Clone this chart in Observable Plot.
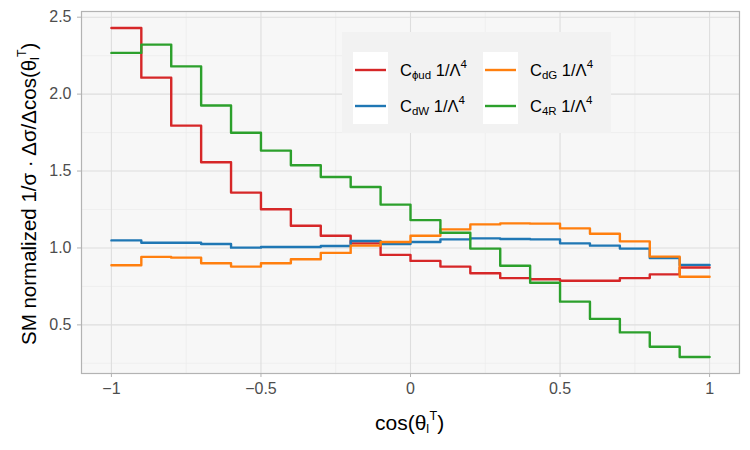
<!DOCTYPE html>
<html><head><meta charset="utf-8">
<script src="https://cdn.jsdelivr.net/npm/d3@7"></script>
<script src="https://cdn.jsdelivr.net/npm/@observablehq/plot@0.6"></script>
<style>body{margin:0;background:#fff;} #chart{width:750px;height:450px;}</style>
</head><body><div id="chart"></div>
<script>
const binLeft = [-1.0,-0.9,-0.8,-0.7,-0.6,-0.5,-0.4,-0.3,-0.2,-0.1,0.0,0.1,0.2,0.3,0.4,0.5,0.6,0.7,0.8,0.9];
const binRight = 1.0;
const cPhiUd = [2.43,2.107,1.795,1.557,1.36,1.252,1.144,1.079,1.03,0.955,0.916,0.879,0.836,0.804,0.797,0.787,0.787,0.804,0.828,0.873];
const cDW    = [1.049,1.034,1.034,1.026,1.002,1.006,1.006,1.013,1.045,1.026,1.039,1.056,1.062,1.058,1.056,1.03,1.015,0.996,0.935,0.89];
const cDG    = [0.888,0.942,0.937,0.901,0.879,0.901,0.927,0.968,1.015,1.039,1.079,1.121,1.153,1.16,1.158,1.127,1.092,1.043,0.944,0.813];
const c4R    = [2.268,2.322,2.18,1.926,1.749,1.633,1.538,1.461,1.396,1.282,1.181,1.099,0.996,0.884,0.774,0.651,0.539,0.451,0.358,0.291];
const seriesKeys = ["phiud","dW","dG","4R"];
const seriesSubs = ["ϕud","dW","dG","4R"];
const seriesColors = ["#d62728","#1f77b4","#ff7f0e","#2ca02c"];
const xTicks = [-1,-0.5,0,0.5,1];
const xTickLabels = ["−1","−0.5","0","0.5","1"];
const xMinor = [-0.75,-0.25,0.25,0.75];
const yTicks = [0.5,1.0,1.5,2.0,2.5];
const yTickLabels = ["0.5","1.0","1.5","2.0","2.5"];
const yMinor = [0.25,0.75,1.25,1.75,2.25];

const seriesValues = [cPhiUd, cDW, cDG, c4R];
const rows = [];
seriesKeys.forEach((k, si) => {
  const vals = seriesValues[si];
  vals.forEach((v, i) => rows.push({key: k, x: binLeft[i], y: v}));
  rows.push({key: k, x: binRight, y: vals[vals.length - 1]});
});

const font = "'Liberation Sans', Arial, sans-serif";
const plot = Plot.plot({
  width: 750, height: 450,
  marginLeft: 81, marginRight: 11, marginTop: 11, marginBottom: 77,
  x: {domain: [-1.1, 1.1]},
  y: {domain: [0.184, 2.537]},
  color: {domain: seriesKeys, range: seriesColors},
  style: {fontFamily: font, fontSize: "16px", background: "#fff", overflow: "visible"},
  marks: [
    Plot.frame({fill: "#F7F7F7", stroke: null}),
    Plot.ruleX(xMinor, {stroke: "#EBEBEB", strokeWidth: 0.7}),
    Plot.ruleY(yMinor, {stroke: "#EBEBEB", strokeWidth: 0.7}),
    Plot.ruleX(xTicks, {stroke: "#DEDEDE", strokeWidth: 1.1}),
    Plot.ruleY(yTicks, {stroke: "#DEDEDE", strokeWidth: 1.1}),
    Plot.line(rows, {x: "x", y: "y", z: "key", stroke: "key", curve: "step-after", strokeWidth: 2.4}),
    Plot.frame({stroke: "#B3B3B3", strokeWidth: 1.2}),
    Plot.axisX(xTicks, {tickFormat: d => xTickLabels[xTicks.indexOf(d)], fontSize: 16, tickSize: 4, tickPadding: 5, stroke: "#B3B3B3", color: "#4D4D4D", label: null}),
    Plot.axisY(yTicks, {tickFormat: d => yTickLabels[yTicks.indexOf(d)], fontSize: 16, tickSize: 4, tickPadding: 6, stroke: "#B3B3B3", color: "#4D4D4D", label: null})
  ]
});
document.getElementById("chart").appendChild(plot);

const svg = d3.select(plot);
svg.selectAll("g[aria-label$='tick label'] text").style("font-size", "16px");

// Axis titles
const xt = svg.append("text").attr("x", 375).attr("y", 430).attr("text-anchor", "start")
  .attr("font-family", font).attr("font-size", 21).attr("fill", "#000");
xt.append("tspan").text("cos(θ");
xt.append("tspan").attr("font-size", "0.6em").attr("dy", "0.25em").text("l");
xt.append("tspan").attr("font-size", "0.6em").attr("dx", "0.02em").attr("dy", "-1.05em").text("T");
xt.append("tspan").attr("dy", "0.5em").text(")");

const yt = svg.append("text").attr("transform", "translate(36,345) rotate(-90)").attr("text-anchor", "start")
  .attr("font-family", font).attr("font-size", 20.5).attr("fill", "#000");
yt.append("tspan").text("SM normalized 1/σ · Δσ/Δcos(θ");
yt.append("tspan").attr("font-size", "0.6em").attr("dy", "0.25em").text("l");
yt.append("tspan").attr("font-size", "0.6em").attr("dx", "0.02em").attr("dy", "-1.05em").text("T");
yt.append("tspan").attr("dy", "0.5em").text(")");

// Legend
const lg = svg.append("g");
lg.append("rect").attr("x", 342).attr("y", 32).attr("width", 269).attr("height", 101).attr("fill", "#F2F2F2");
const colX = [353, 483];
const rowY = [52, 88];
seriesKeys.forEach((k, si) => {
  const col = Math.floor(si / 2), row = si % 2;
  const kx = colX[col], ky = rowY[row];
  lg.append("rect").attr("x", kx).attr("y", ky).attr("width", 35).attr("height", 36).attr("fill", "#fff");
  lg.append("line").attr("x1", kx + 2).attr("x2", kx + 33).attr("y1", ky + 18).attr("y2", ky + 18)
    .attr("stroke", seriesColors[si]).attr("stroke-width", 2.4);
  const t = lg.append("text").attr("x", kx + 47).attr("y", ky + 24).attr("text-anchor", "start")
    .attr("font-family", font).attr("font-size", 16.5).attr("fill", "#000");
  t.append("tspan").text("C");
  t.append("tspan").attr("font-size", 11.5).attr("dy", 3).text(seriesSubs[si]);
  t.append("tspan").attr("dy", -3).text(" 1/Λ");
  t.append("tspan").attr("font-size", 11.5).attr("dy", -8).text("4");
});
</script>
</body></html>
